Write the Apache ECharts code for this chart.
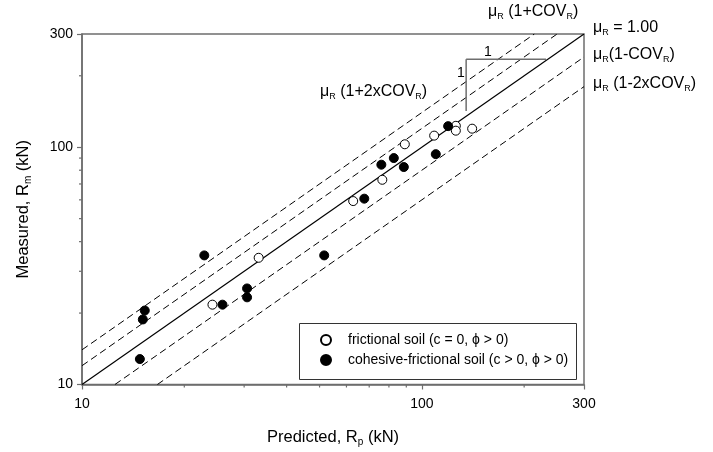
<!DOCTYPE html>
<html>
<head>
<meta charset="utf-8">
<script src="https://cdn.jsdelivr.net/npm/echarts@6/dist/echarts.min.js"></script>
<style>
  html, body { margin: 0; padding: 0; background: #fff; }
  #chart { width: 713px; height: 452px; }
</style>
</head>
<body>
<div id="chart"></div>
<script>
// Load test results: predicted vs measured capacity (kN)
const frictionalPredicted = [24.2, 33.1, 62.8, 76.5, 89.1, 108.7, 125.9, 125.9, 140.6];
const frictionalMeasured  = [21.7, 34.2, 59.3, 72.9, 102.9, 111.9, 123.1, 117.4, 119.7];
const cohesivePredicted = [14.8, 15.1, 15.3, 22.9, 25.9, 30.6, 30.6, 51.6, 67.7, 76.0, 82.7, 88.5, 109.9, 119.5];
const cohesiveMeasured  = [12.8, 18.8, 20.5, 35.0, 21.7, 25.4, 23.3, 35.0, 60.7, 84.4, 90.0, 82.5, 93.5, 122.7];

// Axis range and ticks
const axisMin = 10;
const axisMax = 300;
const tickLabels = ['10', '100', '300'];
const minorTickValues = [20, 30, 40, 50, 60, 70, 80, 90, 200];

// Bias band: mean = 1.00, bounds at +/- 1 and 2 COV
const meanBias = 1.0;
const cov = 0.2;
const boundFactors = [1 + 2 * cov, 1 + cov, 1 - cov, 1 - 2 * cov];

// 1:1 slope triangle (data units)
const slopeRun = [[135, 235], [232, 235]];
const slopeRise = [[135, 235], [135, 142]];

const FONT = 'Liberation Sans, Arial, Helvetica, sans-serif';
const LEG1 = 'frictional soil (c = 0, \u03d5 > 0)';
const LEG2 = 'cohesive-frictional soil (c > 0, \u03d5 > 0)';

function zip(a, b) { return a.map((v, i) => [v, b[i]]); }

// straight line y = k*x clipped to the plotting box
function ratioLine(k) {
  if (k >= 1) return [[axisMin, axisMin * k], [axisMax / k, axisMax]];
  return [[axisMin / k, axisMin], [axisMax, axisMax * k]];
}

const chart = echarts.init(document.getElementById('chart'), null, { renderer: 'canvas' });

function richFor(size, subSize) {
  return {
    n: { fontSize: size, fontFamily: FONT, color: '#000', lineHeight: size + 2 },
    s: { fontSize: subSize, fontFamily: FONT, color: '#000', lineHeight: 4, verticalAlign: 'bottom' }
  };
}
const labelRich = richFor(16, 9);
const titleRich = richFor(16.5, 10);

function label(x, y, text) {
  return {
    type: 'text', left: x, top: y - 10, z: 100,
    style: { text: text, rich: labelRich, fill: '#000' }
  };
}

const lineSeries = [];
lineSeries.push({
  type: 'line', data: ratioLine(meanBias), symbol: 'none', silent: true,
  lineStyle: { color: '#000', width: 1.2, type: 'solid' }, z: 3
});
boundFactors.forEach(k => {
  lineSeries.push({
    type: 'line', data: ratioLine(k), symbol: 'none', silent: true,
    lineStyle: { color: '#000', width: 1, type: [7, 4] }, z: 3
  });
});
[slopeRun, slopeRise].forEach(seg => {
  lineSeries.push({
    type: 'line', data: seg, symbol: 'none', silent: true,
    lineStyle: { color: '#6e6e6e', width: 1.5 }, z: 3
  });
});

// minor ticks drawn through the axes' own log scale
function tickSeries(isX) {
  return {
    type: 'custom', silent: true, clip: false, z: 5,
    data: minorTickValues.map(v => isX ? [v, axisMin] : [axisMin, v]),
    renderItem: function (params, api) {
      const p = api.coord([api.value(0), api.value(1)]);
      const shape = isX
        ? { x1: p[0], y1: p[1], x2: p[0], y2: p[1] + 3 }
        : { x1: p[0], y1: p[1], x2: p[0] - 3, y2: p[1] };
      return { type: 'line', shape: shape, style: { stroke: '#6e6e6e', lineWidth: 1.2 } };
    }
  };
}

const axisCommon = {
  type: 'log', logBase: 10, min: axisMin, max: axisMax,
  axisLine: { show: true, lineStyle: { color: '#6e6e6e', width: 1.5 } },
  axisTick: { show: true, inside: false, length: 5, lineStyle: { color: '#6e6e6e', width: 1.2 } },
  minorTick: { show: false },
  splitLine: { show: false },
  axisLabel: {
    color: '#000', fontSize: 14, fontFamily: FONT,
    formatter: v => {
      const s = String(Math.round(v));
      return tickLabels.indexOf(s) >= 0 ? s : '';
    }
  },
  nameLocation: 'middle',
  nameTextStyle: { rich: titleRich }
};

chart.setOption({
  animation: false,
  backgroundColor: '#fff',
  textStyle: { fontFamily: FONT },
  grid: {
    left: 82, right: 129, top: 34, bottom: 63,
    show: true, borderColor: '#6e6e6e', borderWidth: 1.5, backgroundColor: 'transparent'
  },
  xAxis: Object.assign({}, axisCommon, {
    name: '{n|Predicted, R}{s|p}{n| (kN)}', nameGap: 44,
    axisLabel: Object.assign({}, axisCommon.axisLabel, { margin: 13 })
  }),
  yAxis: Object.assign({}, axisCommon, {
    name: '{n|Measured, R}{s|m}{n| (kN)}', nameGap: 49, nameRotate: 90,
    axisLabel: Object.assign({}, axisCommon.axisLabel, { margin: 9 })
  }),
  legend: {
    data: [LEG1, LEG2], orient: 'vertical', left: 320, top: 333, z: 30,
    itemWidth: 10, itemHeight: 10, itemGap: 6, padding: 0,
    textStyle: { fontSize: 14, fontFamily: FONT, color: '#000', padding: [0, 0, 0, 12] },
    selectedMode: false
  },
  graphic: [
    {
      type: 'rect', z: 1, silent: true,
      shape: { x: 299.5, y: 323.5, width: 277, height: 56 },
      style: { fill: '#fff', stroke: '#333', lineWidth: 1 }
    },
    label(488, 14, '{n|\u03bc}{s|R}{n| (1+COV}{s|R}{n|)}'),
    label(593, 30, '{n|\u03bc}{s|R}{n| = 1.00}'),
    label(593, 57, '{n|\u03bc}{s|R}{n|(1-COV}{s|R}{n|)}'),
    label(593, 86, '{n|\u03bc}{s|R}{n| (1-2xCOV}{s|R}{n|)}'),
    label(320, 94, '{n|\u03bc}{s|R}{n| (1+2xCOV}{s|R}{n|)}'),
    {
      type: 'text', x: 488, y: 52, z: 100,
      style: { text: '1', fontSize: 14, fontFamily: FONT, fill: '#000', align: 'center', verticalAlign: 'middle' }
    },
    {
      type: 'text', x: 461, y: 73, z: 100,
      style: { text: '1', fontSize: 14, fontFamily: FONT, fill: '#000', align: 'center', verticalAlign: 'middle' }
    }
  ],
  series: lineSeries.concat([
    tickSeries(true),
    tickSeries(false),
    {
      name: LEG1, type: 'scatter', data: zip(frictionalPredicted, frictionalMeasured),
      symbol: 'circle', symbolSize: 9, z: 10,
      itemStyle: { color: '#fff', borderColor: '#000', borderWidth: 1, opacity: 1 }
    },
    {
      name: LEG2, type: 'scatter', data: zip(cohesivePredicted, cohesiveMeasured),
      symbol: 'circle', symbolSize: 9, z: 10,
      itemStyle: { color: '#000', borderColor: '#000', borderWidth: 1, opacity: 1 }
    }
  ])
});
</script>
</body>
</html>
